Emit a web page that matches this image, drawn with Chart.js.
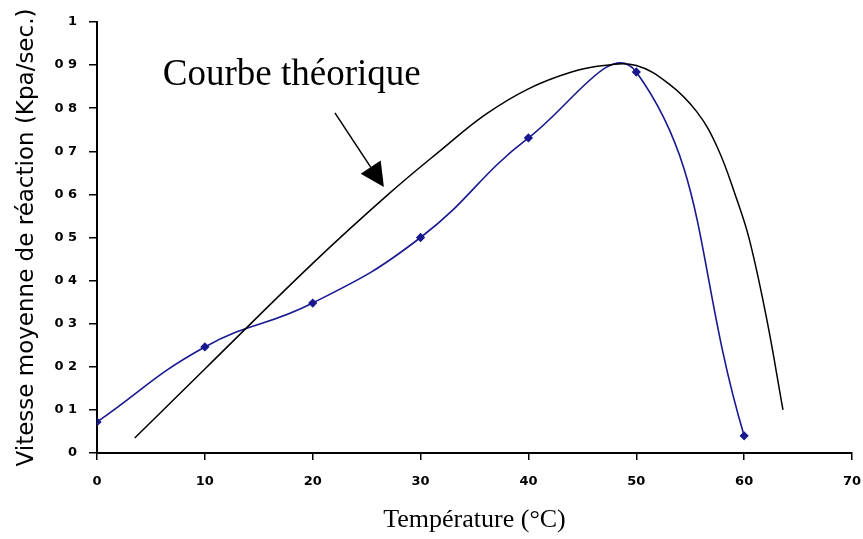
<!DOCTYPE html>
<html>
<head>
<meta charset="utf-8">
<script src="https://cdn.jsdelivr.net/npm/chart.js@4/dist/chart.umd.min.js"></script>
<style>
  html, body { margin: 0; padding: 0; background: #fff; }
  #wrap { width: 863px; height: 539px; }
</style>
</head>
<body>
<div id="wrap"><canvas id="chart"></canvas></div>
<script>
// mesures (points avec marqueurs)
const tempMesure = [0, 10, 20, 30, 40, 50, 60];
const vitesseMesure = [0.072, 0.246, 0.348, 0.5, 0.731, 0.884, 0.04];

// courbe théorique
const tempTheorique = [3.5, 10, 20, 27, 32, 36, 40, 44, 47, 50, 53, 55.6, 57.5, 59.3, 60.5, 62.1, 63.6];
const vitesseTheorique = [0.035, 0.195, 0.44, 0.6, 0.705, 0.785, 0.845, 0.884, 0.899, 0.899, 0.857, 0.792, 0.71, 0.59, 0.494, 0.31, 0.1];

const xTicks = [0, 10, 20, 30, 40, 50, 60, 70];
const yTickLabels = ['0', '0 1', '0 2', '0 3', '0 4', '0 5', '0 6', '0 7', '0 8', '0 9', '1'];

const annotation = {
    text: 'Courbe théorique',
    textAt: [6.1, 0.854],
    arrowFrom: [22.06, 0.789],
    arrowTo: [26.6, 0.617]
};

function toPoints(xs, ys) {
    return xs.map((x, i) => ({ x: x, y: ys[i] }));
}

const annotationPlugin = {
    id: 'courbeLabel',
    afterDatasetsDraw(chart) {
        const ctx = chart.ctx;
        const sx = chart.scales.x, sy = chart.scales.y;
        ctx.save();
        ctx.fillStyle = '#000';
        ctx.font = '37px "Liberation Serif", serif';
        ctx.textBaseline = 'alphabetic';
        ctx.fillText(annotation.text, sx.getPixelForValue(annotation.textAt[0]), sy.getPixelForValue(annotation.textAt[1]));

        const x1 = sx.getPixelForValue(annotation.arrowFrom[0]), y1 = sy.getPixelForValue(annotation.arrowFrom[1]);
        const x2 = sx.getPixelForValue(annotation.arrowTo[0]), y2 = sy.getPixelForValue(annotation.arrowTo[1]);
        const ang = Math.atan2(y2 - y1, x2 - x1);
        const headLen = 24, headW = 12;
        const bx = x2 - headLen * Math.cos(ang), by = y2 - headLen * Math.sin(ang);
        ctx.strokeStyle = '#000';
        ctx.lineWidth = 1.5;
        ctx.beginPath();
        ctx.moveTo(x1, y1);
        ctx.lineTo(bx, by);
        ctx.stroke();
        ctx.beginPath();
        ctx.moveTo(x2, y2);
        ctx.lineTo(bx + headW * Math.sin(ang), by - headW * Math.cos(ang));
        ctx.lineTo(bx - headW * Math.sin(ang), by + headW * Math.cos(ang));
        ctx.closePath();
        ctx.fill();
        ctx.restore();
    }
};

new Chart(document.getElementById('chart').getContext('2d'), {
    type: 'line',
    data: {
        datasets: [
            {
                label: 'Courbe théorique',
                data: toPoints(tempTheorique, vitesseTheorique),
                borderColor: '#000',
                borderWidth: 1.5,
                pointRadius: 0,
                tension: 0.4,
                fill: false
            },
            {
                label: 'Mesures',
                data: toPoints(tempMesure, vitesseMesure),
                borderColor: '#18188f',
                backgroundColor: '#18188f',
                borderWidth: 1.6,
                pointStyle: 'rectRot',
                pointRadius: 3.5,
                tension: 0.45,
                fill: false
            }
        ]
    },
    options: {
        responsive: true,
        maintainAspectRatio: false,
        animation: false,
        layout: { padding: { top: 22, right: 11, bottom: 0, left: 0 } },
        plugins: {
            legend: { display: false },
            tooltip: { enabled: false }
        },
        scales: {
            x: {
                type: 'linear',
                min: 0,
                max: 70,
                afterFit: s => { s.height = 86; s.paddingLeft = 0; s.paddingRight = 0; },
                afterBuildTicks: s => { s.ticks = xTicks.map(v => ({ value: v })); },
                grid: { drawOnChartArea: false, drawTicks: true, tickLength: 7, color: '#000', lineWidth: 1.5 },
                border: { display: true, color: '#000', width: 2 },
                ticks: {
                    color: '#000',
                    padding: 14,
                    maxRotation: 0,
                    font: { family: 'DejaVu Sans', size: 13, weight: 'bold' }
                },
                title: {
                    display: true,
                    text: 'Température (°C)',
                    color: '#000',
                    font: { family: 'Liberation Serif', size: 26 },
                    padding: { top: 0, bottom: 3 }
                }
            },
            y: {
                min: 0,
                max: 1,
                afterFit: s => { s.width = 97; },
                afterBuildTicks: s => { s.ticks = yTickLabels.map((t, i) => ({ value: i / 10 })); },
                grid: { drawOnChartArea: false, drawTicks: true, tickLength: 8, color: '#000', lineWidth: 1.5 },
                border: { display: true, color: '#000', width: 2 },
                ticks: {
                    color: '#000',
                    padding: 12,
                    font: { family: 'DejaVu Sans', size: 13, weight: 'bold' },
                    callback: (v, i) => yTickLabels[i]
                },
                title: {
                    display: true,
                    text: 'Vitesse moyenne de réaction (Kpa/sec.)',
                    color: '#000',
                    font: { family: 'DejaVu Sans', size: 23 },
                    padding: { top: 13, bottom: 0 }
                }
            }
        }
    },
    plugins: [annotationPlugin]
});
</script>
</body>
</html>
